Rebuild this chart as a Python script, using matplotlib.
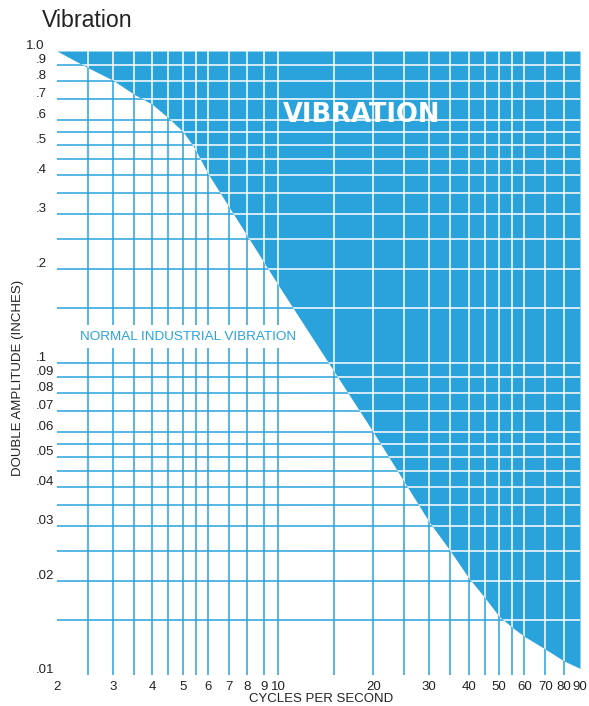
import matplotlib
matplotlib.use('Agg')
import matplotlib.pyplot as plt
from matplotlib.ticker import NullLocator, NullFormatter
from matplotlib.transforms import ScaledTranslation

plt.rcParams['font.family'] = ['Liberation Sans', 'DejaVu Sans']

BLUE = '#2AA3DD'

# Boundary between "normal industrial vibration" and "vibration" regions
boundary_freq = [2, 2.5, 3, 3.5, 4, 4.5, 5, 5.4, 6, 10, 20, 30, 35, 40, 45, 50, 55, 60, 70, 80, 90]
boundary_amp = [1.0, 0.885, 0.807, 0.727, 0.675, 0.61, 0.552, 0.495, 0.405, 0.178, 0.060, 0.031,
                0.025, 0.0205, 0.0177, 0.0154, 0.0142, 0.0133, 0.0121, 0.0111, 0.0105]

# Grid lines
grid_freq = [2.5, 3, 3.5, 4, 4.5, 5, 5.5, 6, 7, 8, 9, 10, 15, 20, 25, 30, 35, 40, 45, 50,
             55, 60, 70, 80]
grid_amp = [0.9, 0.8, 0.7, 0.6, 0.55, 0.5, 0.45, 0.4, 0.35, 0.3, 0.25, 0.2, 0.15, 0.1,
            0.09, 0.08, 0.07, 0.06, 0.055, 0.05, 0.045, 0.04, 0.035, 0.03, 0.025, 0.02, 0.015]

# Tick labels
x_ticks = [2, 3, 4, 5, 6, 7, 8, 9, 10, 20, 30, 40, 50, 60, 70, 80, 90]
x_tick_labels = ['2', '3', '4', '5', '6', '7', '8', '9', '10', '20', '30', '40', '50', '60',
                 '70', '80', '90']
y_ticks = [1.0, 0.9, 0.8, 0.7, 0.6, 0.5, 0.4, 0.3, 0.2, 0.1, 0.09, 0.08, 0.07, 0.06, 0.05,
           0.04, 0.03, 0.02, 0.01]
y_tick_labels = ['1.0', '.9', '.8', '.7', '.6', '.5', '.4', '.3', '.2', '.1', '.09', '.08',
                 '.07', '.06', '.05', '.04', '.03', '.02', '.01']

W, H = 589, 706
fig = plt.figure(figsize=(W / 100, H / 100), dpi=100)
ax = fig.add_axes([57 / W, 1 - 675 / H, 523 / W, 624 / H])
ax.set_xscale('log')
ax.set_yscale('log')
ax.set_xlim(2, 90)
ax.set_ylim(0.01, 1.0)
for s in ax.spines.values():
    s.set_visible(False)

# blue grid (visible in white region)
ax.vlines(grid_freq, 0.01, 1.0, color=BLUE, lw=1.1, zorder=1)
ax.hlines(grid_amp, 2, 90, color=BLUE, lw=1.1, zorder=1)

# filled vibration region
coll = ax.fill_between(boundary_freq, boundary_amp, 1.0, color=BLUE, lw=0, zorder=2)
clip_path = coll.get_paths()[0]

# white grid inside filled region
wv = ax.vlines(grid_freq, 0.01, 1.0, color='white', lw=1.1, zorder=3)
wh = ax.hlines(grid_amp, 2, 90, color='white', lw=1.1, zorder=3)
wv.set_clip_path(clip_path, ax.transData)
wh.set_clip_path(clip_path, ax.transData)

# x ticks
ax.set_xticks(x_ticks, x_tick_labels)
ax.xaxis.set_minor_locator(NullLocator())
ax.xaxis.set_minor_formatter(NullFormatter())
ax.set_yticks([])
ax.yaxis.set_minor_locator(NullLocator())
ax.yaxis.set_minor_formatter(NullFormatter())
ax.tick_params(axis='x', which='both', length=0, pad=4, labelsize=9.5, labelcolor='#222222')

# y tick labels aligned on decimal point
ytrans = ax.get_yaxis_transform() + ScaledTranslation(0, 0.05, fig.dpi_scale_trans)
for v, lab in zip(y_ticks, y_tick_labels):
    xpix = 26 if lab.startswith('1') else 36
    ax.text((xpix - 57) / 523, v, lab, transform=ytrans, ha='left', va='center',
            fontsize=9.5, color='#222222', clip_on=False)

fig.text(42 / W, 1 - 27 / H, 'Vibration', fontsize=16.7, va='baseline', ha='left', color='#222222')
ax.text(0.432, 0.8867, 'VIBRATION', transform=ax.transAxes, color='white', fontsize=18.5,
        fontweight='bold', family=['DejaVu Sans'], va='baseline', ha='left', zorder=5)
ax.text(0.044, 0.537, 'NORMAL INDUSTRIAL VIBRATION', transform=ax.transAxes, color=BLUE,
        fontsize=9.7, va='baseline', ha='left', zorder=4,
        bbox=dict(facecolor='white', edgecolor='none', pad=4))
fig.text(18 / W, 1 - 378 / H, 'DOUBLE AMPLITUDE (INCHES)', rotation=90, va='center',
         ha='center', fontsize=9.5, color='#222222')
fig.text(321 / W, 1 - 699 / H, 'CYCLES PER SECOND', ha='center', va='center', fontsize=9.5,
         color='#222222')

fig.savefig('out.png', dpi=100)
